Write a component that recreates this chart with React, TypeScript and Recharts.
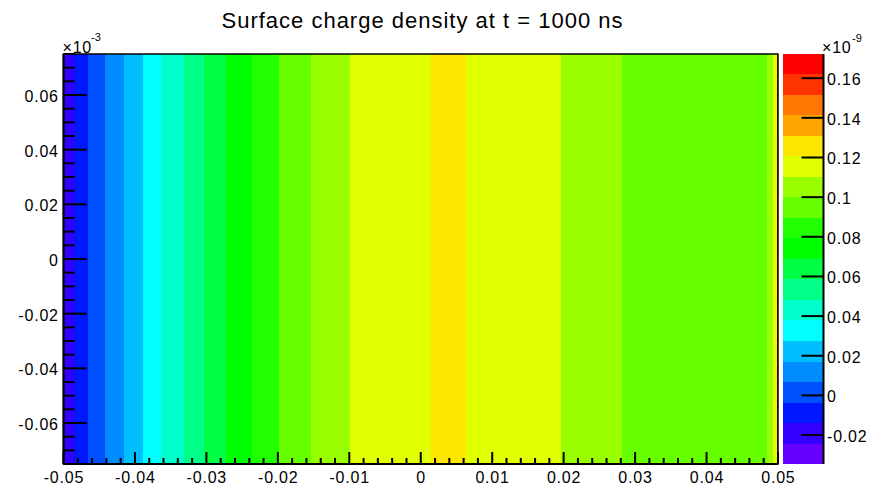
import React from 'react';
import { ComposedChart, XAxis, YAxis, ReferenceArea } from 'recharts';

// strip edges along x (m) and the surface charge density in each strip (x1e-9)
const stripEdges = [
  -0.05, -0.0486, -0.0466, -0.0442, -0.0416, -0.0389, -0.0363, -0.0332, -0.0303, -0.0272, -0.0236,
  -0.0199, -0.0154, -0.0099, 0.0015, 0.0063, 0.0196, 0.0282, 0.0484, 0.0493, 0.0498, 0.0499, 0.05,
];
const stripDensity = [
  -0.019, -0.009, 0.002, 0.012, 0.022, 0.033, 0.043, 0.053, 0.064, 0.074, 0.085,
  0.095, 0.105, 0.116, 0.126, 0.116, 0.105, 0.095, 0.105, 0.116, 0.126, 0.172,
];

// contour levels of the colour palette (x1e-9) and the colour of each band, bottom to top
const paletteLevels = [
  -0.0346, -0.0243, -0.0139, -0.0036, 0.0068, 0.0171, 0.0275, 0.0378, 0.0482, 0.0585, 0.0689,
  0.0792, 0.0896, 0.0999, 0.1103, 0.1206, 0.131, 0.1413, 0.1516, 0.1619, 0.1722,
];
const paletteColors = [
  '#6600ff', '#3300ff', '#0018ff', '#0050ff', '#008cff', '#00bfff', '#00ffff', '#00ffcc', '#00ff88', '#00ff44',
  '#00ff00', '#22ff00', '#66ff00', '#99ff00', '#e0ff00', '#ffe600', '#ffa500', '#ff7700', '#ff3300', '#ff0000',
];

const xMajorTicks = [-0.05, -0.04, -0.03, -0.02, -0.01, 0, 0.01, 0.02, 0.03, 0.04, 0.05];
const xTickLabels = ['-0.05', '-0.04', '-0.03', '-0.02', '-0.01', '0', '0.01', '0.02', '0.03', '0.04', '0.05'];
const yMajorTicks = [-0.06, -0.04, -0.02, 0, 0.02, 0.04, 0.06];
const yTickLabels = ['-0.06', '-0.04', '-0.02', '0', '0.02', '0.04', '0.06'];
const zTicks = [-0.02, 0, 0.02, 0.04, 0.06, 0.08, 0.1, 0.12, 0.14, 0.16];
const zTickLabels = ['-0.02', '0', '0.02', '0.04', '0.06', '0.08', '0.1', '0.12', '0.14', '0.16'];

const X_DOMAIN: [number, number] = [-0.05, 0.05];
const Y_DOMAIN: [number, number] = [-0.075, 0.075];
const Z_DOMAIN: [number, number] = [paletteLevels[0], paletteLevels[paletteLevels.length - 1]];

const FONT = '"Liberation Sans", Arial, Helvetica, sans-serif';
const LS = 0.8; // ROOT's text renders a little wider than the browser's

// minor ticks between the majors (axis decoration only)
const subdivide = (majors: number[], n: number, lo: number, hi: number) => {
  const step = (majors[1] - majors[0]) / n;
  const out: number[] = [];
  for (let v = majors[0] - step * Math.floor((majors[0] - lo) / step + 1e-6); v <= hi + 1e-9; v += step) {
    out.push(Math.round(v * 1e6) / 1e6);
  }
  return out;
};
const xTicks = subdivide(xMajorTicks, 5, X_DOMAIN[0], X_DOMAIN[1]);
const yTicks = subdivide(yMajorTicks, 4, Y_DOMAIN[0], Y_DOMAIN[1]);

const colorFor = (v: number) => {
  for (let i = 0; i < paletteColors.length; i++) {
    if (v >= paletteLevels[i] && v < paletteLevels[i + 1]) return paletteColors[i];
  }
  return v < paletteLevels[0] ? paletteColors[0] : paletteColors[paletteColors.length - 1];
};

const majorIndex = (list: number[], v: number) => list.findIndex(m => Math.abs(m - v) < 1e-7);

const crispRect = (p: any) => (
  <rect x={p.x} y={p.y} width={p.width} height={p.height} fill={p.fill} stroke="none" shapeRendering="crispEdges" />
);

const XTick = (props: any) => {
  const { x, y, payload } = props;
  const i = majorIndex(xMajorTicks, payload.value);
  return (
    <g>
      <line x1={x} x2={x} y1={y} y2={y - (i >= 0 ? 12 : 6)} stroke="#000" strokeWidth={2} />
      {i >= 0 && (
        <text x={x + LS / 2} y={y + 19} textAnchor="middle" fontSize={16} letterSpacing={LS} fontFamily={FONT} fill="#000">
          {xTickLabels[i]}
        </text>
      )}
    </g>
  );
};

const YTick = (props: any) => {
  const { x, y, payload } = props;
  const i = majorIndex(yMajorTicks, payload.value);
  return (
    <g>
      <line x1={x} x2={x + (i >= 0 ? 23 : 11)} y1={y} y2={y} stroke="#000" strokeWidth={2} />
      {i >= 0 && (
        <text x={x - 5.5 + LS} y={y + 7} textAnchor="end" fontSize={16} letterSpacing={LS} fontFamily={FONT} fill="#000">
          {yTickLabels[i]}
        </text>
      )}
    </g>
  );
};

const ZTick = (props: any) => {
  const { x, y, payload } = props;
  const i = majorIndex(zTicks, payload.value);
  return (
    <g>
      <line x1={x} x2={x - 22} y1={y} y2={y} stroke="#000" strokeWidth={2} />
      <text x={x + 3.5} y={y + 7} textAnchor="start" fontSize={16} letterSpacing={LS} fontFamily={FONT} fill="#000">
        {zTickLabels[i]}
      </text>
    </g>
  );
};

const App: React.FC = () => {
  const strips = stripDensity.map((d, i) => ({ x1: stripEdges[i], x2: stripEdges[i + 1], color: colorFor(d) }));

  return (
    <div style={{ position: 'absolute', left: 0, top: 0, width: 885, height: 488, background: '#fff', fontFamily: FONT }}>
      <div style={{ position: 'absolute', left: 0, top: 0 }}>
        <ComposedChart width={885} height={488} margin={{ top: 54, right: 107, bottom: 0, left: 0 }}>
          {strips.map((s, i) => (
            <ReferenceArea
              key={i}
              x1={s.x1}
              x2={s.x2}
              y1={Y_DOMAIN[0]}
              y2={Y_DOMAIN[1]}
              fill={s.color}
              fillOpacity={1}
              stroke="none"
              ifOverflow="visible"
              shape={crispRect}
            />
          ))}
          <ReferenceArea
            x1={X_DOMAIN[0]}
            x2={X_DOMAIN[1]}
            y1={Y_DOMAIN[0]}
            y2={Y_DOMAIN[1]}
            fill="none"
            fillOpacity={0}
            stroke="#000"
            strokeWidth={1.5}
            ifOverflow="visible"
          />
          <XAxis
            type="number"
            dataKey="x"
            domain={X_DOMAIN}
            ticks={xTicks}
            interval={0}
            height={24}
            tickSize={0}
            tickMargin={0}
            tickLine={false}
            axisLine={{ stroke: '#000', strokeWidth: 2 }}
            tick={<XTick />}
            allowDataOverflow
          />
          <YAxis
            type="number"
            dataKey="y"
            domain={Y_DOMAIN}
            ticks={yTicks}
            interval={0}
            width={63.5}
            tickSize={0}
            tickMargin={0}
            tickLine={false}
            axisLine={{ stroke: '#000', strokeWidth: 2 }}
            tick={<YTick />}
            allowDataOverflow
          />
        </ComposedChart>
      </div>

      <div style={{ position: 'absolute', left: 0, top: 0 }}>
        <ComposedChart width={885} height={488} margin={{ top: 54, right: 0, bottom: 24, left: 783 }}>
          {paletteColors.map((c, i) => (
            <ReferenceArea
              key={i}
              x1={0}
              x2={1}
              y1={paletteLevels[i]}
              y2={paletteLevels[i + 1]}
              fill={c}
              fillOpacity={1}
              stroke="none"
              ifOverflow="visible"
              shape={crispRect}
            />
          ))}
          <XAxis type="number" dataKey="x" domain={[0, 1]} hide allowDataOverflow />
          <YAxis
            type="number"
            dataKey="z"
            orientation="right"
            domain={Z_DOMAIN}
            ticks={zTicks}
            interval={0}
            width={61.5}
            tickSize={0}
            tickMargin={0}
            tickLine={false}
            axisLine={{ stroke: '#000', strokeWidth: 2 }}
            tick={<ZTick />}
            allowDataOverflow
          />
        </ComposedChart>
      </div>

      <svg width={885} height={488} style={{ position: 'absolute', left: 0, top: 0, pointerEvents: 'none' }}>
        <text x={422.5} y={27.5} textAnchor="middle" fontSize={22} letterSpacing={1} fontFamily={FONT} fill="#000">
          Surface charge density at t = 1000 ns
        </text>
        <text x={62.5} y={53} fontSize={16} letterSpacing={LS} fontFamily={FONT} fill="#000">
          ×10
        </text>
        <text x={91} y={40.5} fontSize={11} fontFamily={FONT} fill="#000">
          -3
        </text>
        <text x={822} y={52.5} fontSize={16} letterSpacing={LS} fontFamily={FONT} fill="#000">
          ×10
        </text>
        <text x={852} y={41.5} fontSize={11} fontFamily={FONT} fill="#000">
          -9
        </text>
      </svg>
    </div>
  );
};

export default App;
